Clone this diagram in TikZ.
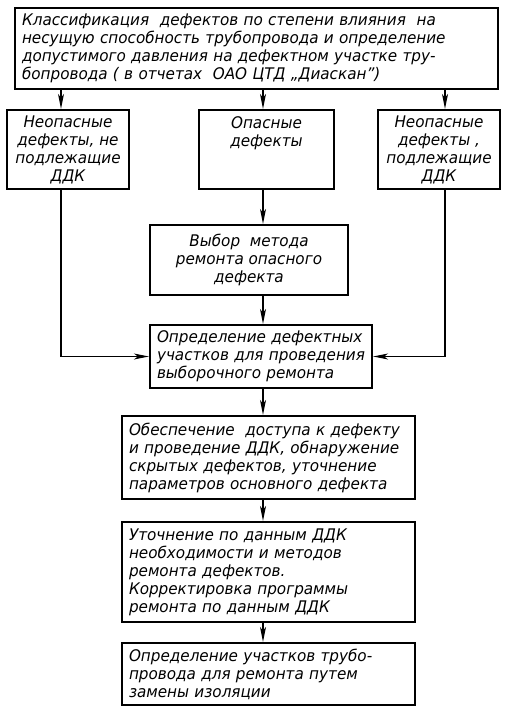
\documentclass[tikz,border=0pt]{standalone}
\usepackage{fontspec}
\newfontfamily\gost[FakeStretch=0.95]{DejaVu Sans}
\usetikzlibrary{arrows.meta}
\newcommand{\fl}[1]{\makebox[\hsize][s]{#1}}
\begin{document}
\begin{tikzpicture}[x=1pt,y=-1pt,
  box/.style={draw, line width=2.2pt, inner sep=0pt, align=left,
    font={\gost\itshape\fontsize{16}{18}\selectfont}},
  arr/.style={line width=1.2pt, -{Stealth[length=15pt,width=6pt,inset=4pt]}},
  ln/.style={line width=1.2pt}]
\useasboundingbox (0,0) rectangle (505,714);
\node[box, minimum width=483pt, minimum height=81pt, text width=469pt] (top) at (256.5,48.5)
 {\fl{Классификация \ дефектов по степени влияния \ на}\\
  \fl{несущую способность трубопровода и определение}\\
  \fl{допустимого давления на дефектном участке тру-}\\
  бопровода ( в отчетах \ ОАО ЦТД „Диаскан”)};
\node[box, align=center, minimum width=122pt, minimum height=79pt] (L) at (68,149.5)
 {Неопасные\\дефекты, не\\подлежащие\\ДДК};
\node[box, align=center, minimum width=135pt, minimum height=79pt] (M) at (266.5,149.5)
 {Опасные\\дефекты\\ \\ };
\node[box, align=center, minimum width=122pt, minimum height=79pt] (R) at (439,149.5)
 {Неопасные\\дефекты ,\\подлежащие\\ДДК};
\node[box, align=center, minimum width=198pt, minimum height=70pt] (V) at (249,260)
 {Выбор \ метода\\ремонта опасного\\дефекта};
\node[box, minimum width=222pt, minimum height=63pt, text width=208pt] (O) at (261,356.5)
 {Определение дефектных\\участков для проведения\\выборочного ремонта};
\node[box, minimum width=293pt, minimum height=83pt, text width=279pt] (B) at (268.5,457.5)
 {Обеспечение \ доступа к дефекту\\
  и проведение ДДК, обнаружение\\
  скрытых дефектов, уточнение\\
  параметров основного дефекта};
\node[box, minimum width=293pt, minimum height=100pt, text width=279pt] (U) at (268.5,572)
 {Уточнение по данным ДДК\\
  необходимости и методов\\
  ремонта дефектов.\\
  Корректировка программы\\
  ремонта по данным ДДК};
\node[box, minimum width=293pt, minimum height=62pt, text width=279pt] (Z) at (268.5,674)
 {Определение участков трубо-\\
  провода для ремонта путем\\
  замены изоляции};
\coordinate (cl) at (61,0);
\coordinate (cm) at (263,0);
\coordinate (cr) at (445,0);
\draw[arr] (cl |- top.south) -- (cl |- L.north);
\draw[arr] (cm |- top.south) -- (cm |- M.north);
\draw[arr] (cr |- top.south) -- (cr |- R.north);
\draw[arr] (cm |- M.south) -- (cm |- V.north);
\draw[arr] (cm |- V.south) -- (cm |- O.north);
\draw[arr] (cl |- L.south) |- (O.west);
\draw[arr] (cr |- R.south) |- (O.east);
\draw[arr] (cm |- O.south) -- (cm |- B.north);
\draw[arr] (cm |- B.south) -- (cm |- U.north);
\draw[arr] (cm |- U.south) -- (cm |- Z.north);
\end{tikzpicture}
\end{document}
